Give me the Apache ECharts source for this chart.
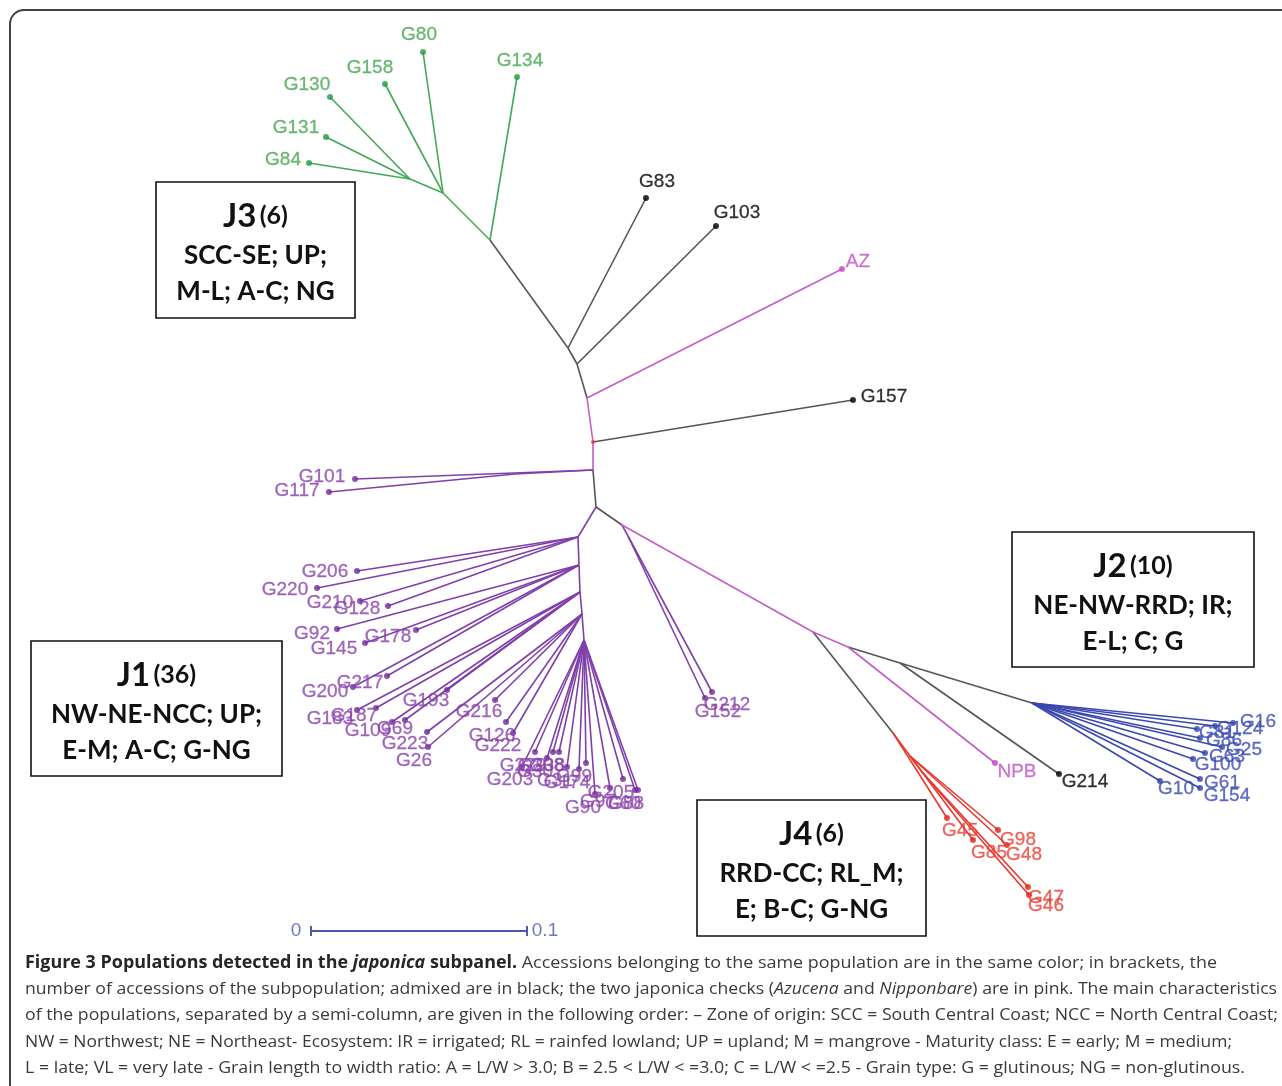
<!DOCTYPE html>
<html>
<head>
<meta charset="utf-8">
<script src="https://cdn.jsdelivr.net/npm/echarts@6/dist/echarts.min.js"></script>
<style>
  html, body { margin: 0; padding: 0; background: #fff; }
  #chart { width: 1282px; height: 1086px; }
</style>
</head>
<body>
<div id="chart"></div>
<script>
// layout space of the tree: x to the right, y downwards
// internal nodes: [id, x, y, parent, group of the edge to the parent]
const internalNodes = [
    ['r', 593, 442, null, 'adm'],
    ['az', 587, 398, 'r', 'pink'],
    ['n103', 577, 364, 'az', 'adm'],
    ['n83', 568, 348, 'n103', 'adm'],
    ['g0', 490, 240, 'n83', 'adm'],
    ['g1', 443, 193, 'g0', 'j3'],
    ['g2', 410, 179, 'g1', 'j3'],
    ['p1', 593, 470, 'r', 'pink'],
    ['p2', 515, 474, 'p1', 'j1'],
    ['k1', 596, 507, 'p1', 'adm'],
    ['A', 578, 537, 'k1', 'j1'],
    ['s1', 579, 565, 'A', 'j1'],
    ['s2', 580, 592, 's1', 'j1'],
    ['s3', 582, 614, 's2', 'j1'],
    ['s4', 584, 640, 's3', 'j1'],
    ['k2', 622, 525, 'k1', 'adm'],
    ['q1', 628, 536, 'k2', 'j1'],
    ['m1', 813, 632, 'k2', 'pink'],
    ['red0', 893, 733, 'm1', 'adm'],
    ['red1', 910, 756, 'red0', 'j4'],
    ['red2', 922, 772, 'red1', 'j4'],
    ['m2', 848, 647, 'm1', 'pink'],
    ['bk1', 900, 663, 'm2', 'adm'],
    ['bl0', 1032, 703, 'bk1', 'adm']
];

// tips: [name, x, y, parent]
const j3Tips = [
    ['G134', 517, 77, 'g0'], ['G80', 423, 52, 'g1'], ['G158', 385, 84, 'g1'],
    ['G130', 330, 97, 'g2'], ['G131', 326, 137, 'g2'], ['G84', 309, 163, 'g2']
];
const admixedTips = [
    ['G83', 646, 198, 'n83'], ['G103', 716, 226, 'n103'],
    ['G157', 853, 400, 'r'], ['G214', 1059, 774, 'bk1']
];
const checkTips = [['AZ', 842, 269, 'az'], ['NPB', 995, 763, 'm2']];
const j1Tips = [
    ['G101', 355, 479, 'p1'], ['G117', 329, 492, 'p2'],
    ['G206', 357, 571, 'A'], ['G220', 317, 588, 'A'], ['G210', 360, 601, 'A'], ['G128', 388, 606, 'A'],
    ['G92', 337, 629, 's1'], ['G178', 416, 630, 's1'], ['G145', 365, 643, 's1'], ['G217', 387, 676, 's1'], ['G200', 353, 687, 's1'],
    ['G183', 357, 710, 's2'], ['G187', 376, 708, 's2'], ['G109', 392, 722, 's2'], ['G69', 405, 720, 's2'], ['G193', 447, 690, 's2'],
    ['G223', 427, 732, 's3'], ['G26', 428, 747, 's3'], ['G216', 495, 700, 's3'], ['G126', 506, 722, 's3'], ['G222', 513, 733, 's3'],
    ['G229', 535, 752, 's4'], ['G30', 547, 758, 's4'], ['G208', 553, 752, 's4'], ['G38', 559, 752, 's4'], ['G203', 522, 767, 's4'],
    ['G31', 567, 767, 's4'], ['G174', 579, 769, 's4'], ['G99', 586, 763, 's4'], ['G90', 595, 794, 's4'], ['G97', 610, 788, 's4'],
    ['G205', 623, 779, 's4'], ['G60', 635, 790, 's4'], ['G88', 638, 790, 's4'],
    ['G212', 712, 692, 'q1'], ['G152', 705, 698, 'q1']
];
const j2Tips = [
    ['G16', 1233, 723, 'bl0'], ['G124', 1215, 726, 'bl0'], ['G81', 1197, 729, 'bl0'], ['G86', 1200, 738, 'bl0'],
    ['G25', 1222, 747, 'bl0'], ['G63', 1205, 753, 'bl0'], ['G100', 1193, 759, 'bl0'], ['G10', 1160, 781, 'bl0'],
    ['G61', 1200, 779, 'bl0'], ['G154', 1200, 788, 'bl0']
];
const j4Tips = [
    ['G45', 947, 818, 'red0'], ['G85', 973, 840, 'red1'], ['G98', 998, 830, 'red1'],
    ['G48', 1007, 845, 'red1'], ['G47', 1028, 887, 'red2'], ['G46', 1029, 895, 'red2']
];

// scale bar: 0 .. 0.1 in branch length
const scaleTicks = ['0', '0.1'];
const scaleBar = [[311, 931], [527, 931]];

const boxes = [
    { pop: 'J3', n: '(6)', lines: ['SCC-SE; UP;', 'M-L; A-C; NG'] },
    { pop: 'J2', n: '(10)', lines: ['NE-NW-RRD; IR;', 'E-L; C; G'] },
    { pop: 'J1', n: '(36)', lines: ['NW-NE-NCC; UP;', 'E-M; A-C; G-NG'] },
    { pop: 'J4', n: '(6)', lines: ['RRD-CC; RL_M;', 'E; B-C; G-NG'] }
];

const captionLines = [
    '{b|Figure 3 Populations detected in the }{bi|japonica}{b| subpanel.} Accessions belonging to the same population are in the same color; in brackets, the',
    'number of accessions of the subpopulation; admixed are in black; the two japonica checks ({i|Azucena} and {i|Nipponbare}) are in pink. The main characteristics',
    'of the populations, separated by a semi-column, are given in the following order: \u2013 Zone of origin: SCC = South Central Coast; NCC = North Central Coast;',
    'NW = Northwest; NE = Northeast- Ecosystem: IR = irrigated; RL = rainfed lowland; UP = upland; M = mangrove - Maturity class: E = early; M = medium;',
    'L = late; VL = very late - Grain length to width ratio: A = L/W > 3.0; B = 2.5 < L/W < =3.0; C = L/W < =2.5 - Grain type: G = glutinous; NG = non-glutinous.'
];
// right end of each caption line (justified paragraph)
const captionRight = [1217, 1277, 1278, 1232, 1245];

// ---- styles ----
const lineColor = { adm: '#555', pink: '#c45ec8', j3: '#45a858', j1: '#8040aa', j2: '#3a48b0', j4: '#e8382e' };
const dotColor = { adm: '#000', pink: '#bf48c2', j3: '#259a42', j1: '#72289a', j2: '#3040a8', j4: '#e02218' };
const textColor = { adm: '#000', pink: '#c055c4', j3: '#47a653', j1: '#8943ab', j2: '#3b4ab4', j4: '#ea3e34' };

const labelOffset = {
    G134: [3, -16], G80: [-4, -17], G158: [-15, -16], G130: [-23, -12], G131: [-30, -9], G84: [-26, -3],
    G83: [11, -16], G103: [21, -13], G157: [31, -3], G214: [26, 8], AZ: [16, -7], NPB: [22, 9],
    G101: [-33, -2], G117: [-32, -1], G206: [-32, 1], G220: [-32, 2], G210: [-30, 2], G128: [-31, 3],
    G92: [-25, 5], G178: [-28, 7], G145: [-31, 6], G217: [-27, 7], G200: [-28, 5], G183: [-27, 9],
    G187: [-22, 8], G109: [-24, 9], G69: [-10, 9], G193: [-21, 11], G223: [-22, 12], G26: [-14, 14],
    G216: [-16, 12], G126: [-14, 14], G222: [-15, 13], G203: [-12, 13],
    G212: [15, 13], G152: [13, 14],
    G16: [25, -1], G124: [25, 3], G81: [20, 4], G86: [24, 3], G25: [22, 3], G63: [22, 4],
    G100: [25, 6], G10: [16, 8], G61: [22, 4], G154: [27, 8],
    G45: [13, 13], G85: [16, 13], G98: [20, 10], G48: [17, 10], G47: [18, 11], G46: [17, 11]
};

const pos = {};
internalNodes.forEach(n => { pos[n[0]] = [n[1], n[2]]; });

const edges = [];
internalNodes.forEach(n => {
    if (n[3]) edges.push({ coords: [pos[n[3]], [n[1], n[2]]], lineStyle: { color: lineColor[n[4]] } });
});

const tipGroups = [
    ['j3', j3Tips], ['adm', admixedTips], ['pink', checkTips],
    ['j1', j1Tips], ['j2', j2Tips], ['j4', j4Tips]
];
tipGroups.forEach(([g, tips]) => {
    tips.forEach(t => {
        edges.push({ coords: [pos[t[3]], [t[1], t[2]]], lineStyle: { color: lineColor[g] } });
    });
});
const barColor = '#4a58ad';
edges.push({ coords: scaleBar, lineStyle: { color: barColor, width: 2 } });
scaleBar.forEach(p => {
    edges.push({ coords: [[p[0], p[1] - 5], [p[0], p[1] + 5]], lineStyle: { color: barColor, width: 2 } });
});

const tipSeries = tipGroups.map(([g, tips]) => ({
    type: 'scatter',
    symbolSize: 6,
    itemStyle: { color: dotColor[g] },
    label: {
        show: true,
        position: 'inside',
        color: textColor[g],
        textBorderColor: textColor[g],
        textBorderWidth: 0.3,
        fontFamily: 'Liberation Sans',
        fontSize: 19,
        formatter: p => p.data.name
    },
    data: tips.map(t => ({
        name: t[0],
        value: [t[1], t[2]],
        label: { offset: labelOffset[t[0]] || [-12, 14] }
    })),
    z: 3
}));

function boxGraphic(b, x, y, w, h) {
    const cx = x + w / 2;
    const bold = { fontFamily: 'Lato', fontWeight: 'bold', fill: '#111' };
    return {
        type: 'group',
        children: [
            { type: 'rect', shape: { x: x, y: y, width: w, height: h }, style: { fill: '#fff', stroke: '#111', lineWidth: 1.6 } },
            {
                type: 'text', x: cx, y: y + 34,
                style: {
                    text: '{big|' + b.pop + '} {small|' + b.n + '}',
                    align: 'center', verticalAlign: 'middle',
                    rich: {
                        big: Object.assign({ fontSize: 33 }, bold),
                        small: Object.assign({ fontSize: 25 }, bold)
                    }
                }
            },
            {
                type: 'text', x: cx, y: y + 74,
                style: Object.assign({ text: b.lines[0], align: 'center', verticalAlign: 'middle', fontSize: 26 }, bold)
            },
            {
                type: 'text', x: cx, y: y + 110,
                style: Object.assign({ text: b.lines[1], align: 'center', verticalAlign: 'middle', fontSize: 26 }, bold)
            }
        ]
    };
}

// caption: measure each line, then stretch it to the justified width
const capSize = 17;
const capFam = '"Open Sans"';
const capFonts = {
    n: capSize + 'px ' + capFam,
    b: 'bold ' + capSize + 'px ' + capFam,
    bi: 'italic bold ' + capSize + 'px ' + capFam,
    i: 'italic ' + capSize + 'px ' + capFam
};
const ctx = document.createElement('canvas').getContext('2d');
function lineWidth(line) {
    let w = 0, last = 0;
    const re = /\{(\w+)\|([^}]*)\}/g;
    let m;
    while ((m = re.exec(line)) !== null) {
        ctx.font = capFonts.n; w += ctx.measureText(line.slice(last, m.index)).width;
        ctx.font = capFonts[m[1]]; w += ctx.measureText(m[2]).width;
        last = re.lastIndex;
    }
    ctx.font = capFonts.n; w += ctx.measureText(line.slice(last)).width;
    return w;
}

function buildCaption() {
    return captionLines.map((line, i) => ({
        type: 'text', x: 25, y: 963 + i * 26.3,
        scaleX: Math.min(1.08, (captionRight[i] - 25) / lineWidth(line)),
        style: {
            text: line, align: 'left', verticalAlign: 'middle',
            fontFamily: 'Open Sans', fontSize: capSize, fill: '#3a3a3a',
            rich: {
                b: { fontFamily: 'Open Sans', fontSize: capSize, fontWeight: 'bold', fill: '#262626' },
                bi: { fontFamily: 'Open Sans', fontSize: capSize, fontWeight: 'bold', fontStyle: 'italic', fill: '#262626' },
                i: { fontFamily: 'Open Sans', fontSize: capSize, fontStyle: 'italic', fill: '#3a3a3a' }
            }
        }
    }));
}

const chart = echarts.init(document.getElementById('chart'));
function draw() {
    chart.setOption({
        animation: false,
        backgroundColor: '#fff',
        grid: { left: 0, right: 0, top: 0, bottom: 0 },
        xAxis: { type: 'value', min: 0, max: 1282, show: false },
        yAxis: { type: 'value', min: 0, max: 1086, inverse: true, show: false },
        series: [
            {
                type: 'lines',
                coordinateSystem: 'cartesian2d',
                lineStyle: { width: 1.6, opacity: 1 },
                data: edges,
                z: 2
            },
            ...tipSeries,
            {
                type: 'scatter',
                symbolSize: 4,
                itemStyle: { color: '#e8382e' },
                data: [pos.r],
                z: 4
            },
            {
                type: 'scatter',
                symbolSize: 0,
                label: {
                    show: true, position: 'inside', color: barColor,
                    fontFamily: 'Liberation Sans', fontSize: 19,
                    formatter: p => p.data.name
                },
                data: [
                    { name: scaleTicks[0], value: scaleBar[0], label: { offset: [-15, 0] } },
                    { name: scaleTicks[1], value: scaleBar[1], label: { offset: [18, 0] } }
                ]
            }
        ],
        graphic: [
            { type: 'rect', shape: { x: 10, y: 10, width: 1320, height: 1120, r: [14, 0, 0, 0] }, style: { fill: 'none', stroke: '#444', lineWidth: 2 }, z: 0 },
            boxGraphic(boxes[0], 156, 182, 199, 136),
            boxGraphic(boxes[1], 1012, 532, 242, 135),
            boxGraphic(boxes[2], 31, 641, 251, 135),
            boxGraphic(boxes[3], 697, 800, 229, 136),
            ...buildCaption()
        ]
    });
}
if (document.fonts && document.fonts.load) {
    Promise.all(Object.values(capFonts).map(f => document.fonts.load(f))).then(draw, draw);
} else {
    draw();
}
</script>
</body>
</html>
